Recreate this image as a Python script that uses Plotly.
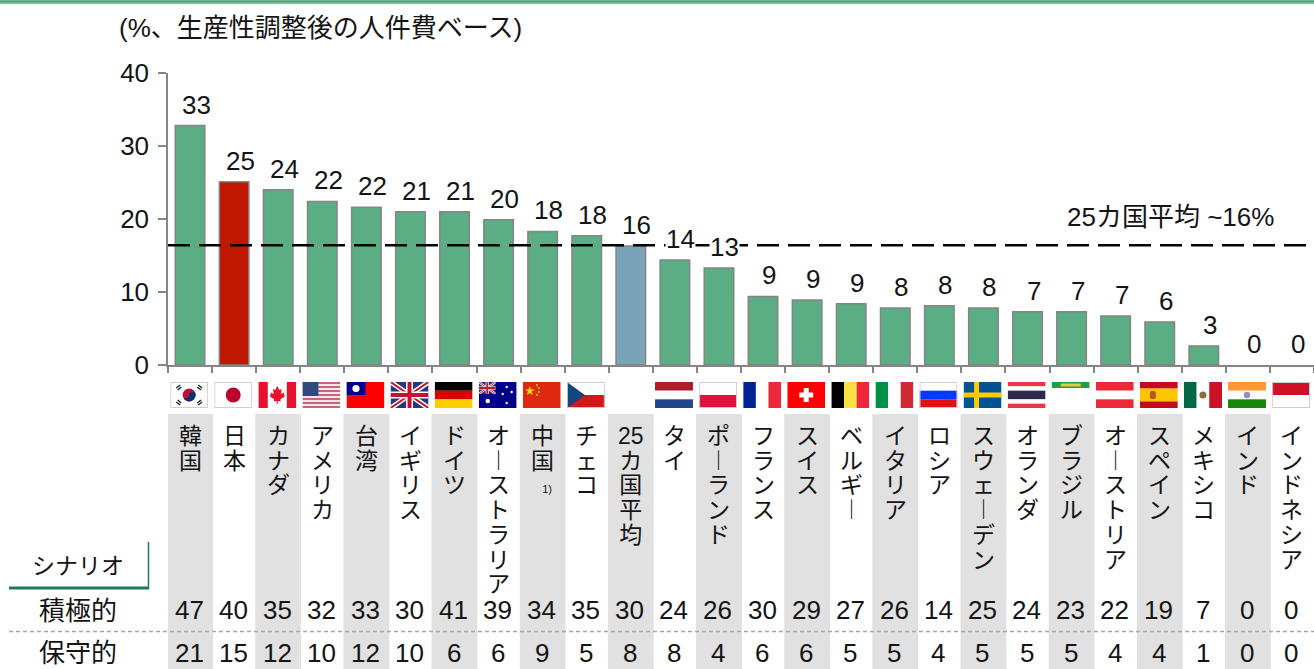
import base64
import plotly.graph_objects as go

W, H = 1314, 669

COUNTRIES = ["韓国", "日本", "カナダ", "アメリカ", "台湾", "イギリス", "ドイツ", "オーストラリア", "中国",
             "チェコ", "25カ国平均", "タイ", "ポーランド", "フランス", "スイス", "ベルギー", "イタリア", "ロシア",
             "スウェーデン", "オランダ", "ブラジル", "オーストリア", "スペイン", "メキシコ", "インド", "インドネシア"]
BASE_VALUES = [32.8, 25.1, 24.0, 22.4, 21.6, 21.0, 21.0, 19.9, 18.3, 17.7, 16.3, 14.4, 13.3,
               9.4, 8.9, 8.4, 7.8, 8.1, 7.8, 7.3, 7.3, 6.7, 5.9, 2.6, 0, 0]
BASE_LABELS = [33, 25, 24, 22, 22, 21, 21, 20, 18, 18, 16, 14, 13, 9, 9, 9, 8, 8, 8, 7, 7, 7, 6, 3, 0, 0]
AGGRESSIVE = [47, 40, 35, 32, 33, 30, 41, 39, 34, 35, 30, 24, 26, 30, 29, 27, 26, 14, 25, 24, 23, 22, 19, 7, 0, 0]
CONSERVATIVE = [21, 15, 12, 10, 12, 10, 6, 6, 9, 5, 8, 8, 4, 6, 6, 5, 5, 4, 5, 5, 5, 4, 4, 1, 0, 0]
AVERAGE = 16.4
YTICKS = [0, 10, 20, 30, 40]
TITLE = "(%、生産性調整後の人件費ベース)"
AVG_LABEL = "25カ国平均 ~16%"
SCENARIO = "シナリオ"
ROW_AGG = "積極的"
ROW_CON = "保守的"

FONT = "Liberation Sans, Noto Sans CJK JP, sans-serif"
INK = "#141414"
GREEN, RED, BLUE = "#5BAE83", "#C01800", "#7AA3B8"
LINE = "#858585"


def py(p):
    return 1 - p / H


def stack(name):
    out = []
    i = 0
    while i < len(name):
        if name[i:i + 2] == "25":
            out.append("25")
            i += 2
            continue
        c = name[i]
        out.append("\uFE31" if c == "ー" else c)
        i += 1
    return "<br>".join(f'<span style="font-size:23px">{g}</span>' for g in out)


def svg(body):
    s = f'<svg xmlns="http://www.w3.org/2000/svg" viewBox="0 0 38 26" preserveAspectRatio="none" width="380" height="260">{body}</svg>'
    return "data:image/svg+xml;base64," + base64.b64encode(s.encode()).decode()


def hs(colors, weights=None):
    weights = weights or [1] * len(colors)
    total = sum(weights)
    y, b = 0, ""
    for c, w in zip(colors, weights):
        h = 26 * w / total
        b += f'<rect x="0" y="{y}" width="38" height="{h + 0.1}" fill="{c}"/>'
        y += h
    return b


def vs(colors):
    w = 38 / len(colors)
    return "".join(f'<rect x="{i * w}" y="0" width="{w + 0.1}" height="26" fill="{c}"/>' for i, c in enumerate(colors))


BORDER = '<rect x="0.5" y="0.5" width="37" height="25" fill="none" stroke="#cfcfcf"/>'
STAR = '<polygon points="7,4 8.2,7.4 11.8,7.4 8.9,9.6 10,13 7,10.9 4,13 5.1,9.6 2.2,7.4 5.8,7.4" fill="#FFDE00"/>'
USA_STRIPES = hs(["#C8657A", "#f4e9ea"] * 6 + ["#C8657A"])
UNION = ('<rect width="38" height="26" fill="#27367F"/>'
         '<path d="M0 0L38 26M38 0L0 26" stroke="#fff" stroke-width="5"/>'
         '<path d="M0 0L38 26M38 0L0 26" stroke="#C8102E" stroke-width="2"/>'
         '<path d="M19 0V26M0 13H38" stroke="#fff" stroke-width="7"/>'
         '<path d="M19 0V26M0 13H38" stroke="#C8102E" stroke-width="4"/>')
FLAGS = {
    "韓国": '<rect width="38" height="26" fill="#fff"/><circle cx="19" cy="13" r="6.5" fill="#C60C30"/>'
            '<path d="M12.5 13A6.5 6.5 0 0 0 25.5 13A3.2 3.2 0 0 0 19 13A3.2 3.2 0 0 1 12.5 13Z" fill="#003478"/>'
            '<path d="M6 6L10 3M7.5 8L11 5M28 3L32 6M27 5L31 8M6 20L10 23M7.5 18L11 21M28 23L32 20M27 21L31 18" stroke="#222" stroke-width="1.4"/>' + BORDER,
    "日本": '<rect width="38" height="26" fill="#fff"/><circle cx="19" cy="13" r="7.5" fill="#BC002D"/>' + BORDER,
    "カナダ": vs(["#E8112D", "#fff", "#fff", "#E8112D"]) +
              '<path d="M19 4L21 8L23.5 7L22.5 12L26 10.5L25.5 13L27 14L22 17.5L22.5 19.5L19.5 19L19.5 22H18.5L18.5 19L15.5 19.5L16 17.5L11 14L12.5 13L12 10.5L15.5 12L14.5 7L17 8Z" fill="#E8112D"/>',
    "アメリカ": USA_STRIPES + '<rect width="16" height="14" fill="#2F4A80"/>',
    "台湾": '<rect width="38" height="26" fill="#FE0000"/><rect width="19" height="13" fill="#000095"/><circle cx="9.5" cy="6.5" r="3.6" fill="#fff"/>',
    "イギリス": UNION,
    "ドイツ": hs(["#000", "#DD0000", "#FFCE00"]),
    "オーストラリア": '<rect width="38" height="26" fill="#00008B"/><svg width="17" height="12" viewBox="0 0 38 26">' + UNION + '</svg>'
                     '<circle cx="9" cy="19" r="2.2" fill="#fff"/><circle cx="28" cy="5" r="1.2" fill="#fff"/><circle cx="33" cy="10" r="1.2" fill="#fff"/><circle cx="24" cy="12" r="1.2" fill="#fff"/><circle cx="28" cy="21" r="1.2" fill="#fff"/>',
    "中国": '<rect width="38" height="26" fill="#DE2910"/>' + STAR + '<circle cx="14" cy="3" r="1" fill="#FFDE00"/><circle cx="16" cy="6" r="1" fill="#FFDE00"/><circle cx="16" cy="10" r="1" fill="#FFDE00"/><circle cx="14" cy="13" r="1" fill="#FFDE00"/>',
    "チェコ": hs(["#fff", "#D7141A"]) + '<polygon points="0,0 18,13 0,26" fill="#11457E"/>' + BORDER,
    "タイ": hs(["#AE1C28", "#fff", "#21468B"]),
    "ポーランド": hs(["#fff", "#DC143C"]) + BORDER,
    "フランス": vs(["#002395", "#fff", "#ED2939"]),
    "スイス": '<rect width="38" height="26" fill="#FF0000"/><path d="M19 6V20M12 13H26" stroke="#fff" stroke-width="5"/>',
    "ベルギー": vs(["#000", "#FAE042", "#ED2939"]),
    "イタリア": vs(["#009246", "#fff", "#CE2B37"]),
    "ロシア": hs(["#fff", "#0039FF", "#E01010"]) + BORDER,
    "スウェーデン": '<rect width="38" height="26" fill="#005293"/><path d="M13 0V26M0 13H38" stroke="#FECB00" stroke-width="5"/>',
    "オランダ": hs(["#EF3340", "#fff", "#2D2A4A", "#fff", "#EF3340"], [1, 1, 2, 1, 1]),
    "ブラジル": '<rect width="38" height="6" fill="#229E45"/><rect x="9" y="1.5" width="20" height="3" fill="#E0D040"/>',
    "オーストリア": hs(["#ED2939", "#fff", "#ED2939"]),
    "スペイン": hs(["#C60B1E", "#FFC400", "#C60B1E"], [1, 2, 1]) + '<rect x="10" y="9" width="6" height="8" rx="2" fill="#B5561D"/>',
    "メキシコ": vs(["#006847", "#fff", "#CE1126"]) + '<circle cx="19" cy="13" r="3.5" fill="#8C6B3F"/>',
    "インド": hs(["#FF9933", "#fff", "#138808"]) + '<circle cx="19" cy="13" r="3.2" fill="#8A8FC8"/>',
    "インドネシア": hs(["#CE1126", "#fff"]) + BORDER,
}

colors = [RED if c == "日本" else BLUE if c == "25カ国平均" else GREEN for c in COUNTRIES]
outline = [1.5 if v > 0 else 0 for v in BASE_VALUES]
n = len(COUNTRIES)
xs = list(range(n))

fig = go.Figure()
fig.add_bar(x=xs, y=BASE_VALUES, width=0.67, marker=dict(color=colors, line=dict(color=LINE, width=outline)),
            showlegend=False, hoverinfo="skip")
fig.add_scatter(x=[-0.5, n - 0.5], y=[AVERAGE, AVERAGE], mode="lines", showlegend=False, hoverinfo="skip",
                line=dict(color="#000", width=2.5, dash="22px,9px"))

shapes = []
for i in xs[::2]:
    shapes.append(dict(type="rect", xref="x", yref="paper", x0=i - 0.52, x1=i + 0.52, y0=0, y1=py(414),
                       fillcolor="#E1E1E1", line_width=0, layer="below"))
shapes += [
    dict(type="rect", xref="paper", yref="paper", x0=0, x1=1, y0=py(4), y1=1, fillcolor="#7CBF9E", line_width=0),
    dict(type="line", xref="paper", yref="paper", x0=0, x1=1, y0=py(1.5), y1=py(1.5), line=dict(color="#4E9C78", width=1.5)),
    dict(type="line", xref="paper", yref="paper", x0=9 / W, x1=149 / W, y0=py(588), y1=py(588), line=dict(color="#1F7A55", width=3)),
    dict(type="line", xref="paper", yref="paper", x0=148.5 / W, x1=148.5 / W, y0=py(589), y1=py(542), line=dict(color="#1F7A55", width=1.5)),
    dict(type="line", xref="paper", yref="paper", x0=9 / W, x1=1, y0=py(631.5), y1=py(631.5), line=dict(color="#A8A8A8", width=1.5, dash="4px,3px")),
]

images = []
for i, c in enumerate(COUNTRIES):
    body = FLAGS.get(c)
    if not body:
        continue
    images.append(dict(source=svg(body), xref="x", yref="paper", x=i - 0.02, y=py(395), sizex=0.86, sizey=26 / H,
                       xanchor="center", yanchor="middle", sizing="stretch", layer="above"))

ann = []


def note(text, x, y, size, xref="paper", yref="paper", **kw):
    ann.append(dict(text=text, x=x, y=y, xref=xref, yref=yref, showarrow=False,
                    font=dict(family=FONT, size=size, color=INK), **kw))


for i, (v, lab) in enumerate(zip(BASE_VALUES, BASE_LABELS)):
    over_line = v < AVERAGE - 1 and v + 7 > AVERAGE
    note(str(lab), i, v, 26, xref="x", yref="y", xanchor="center", yanchor="bottom", xshift=6, yshift=5,
         bgcolor="#ffffff" if over_line else None, borderpad=0)

for i, c in enumerate(COUNTRIES):
    label = stack(c)
    if c == "中国":
        label += '<br><span style="font-size:11px">\u00a0\u00a0\u00a01)</span>'
    note(label, i, py(421), 19, xref="x", xanchor="center", yanchor="top", align="center")
    note(str(AGGRESSIVE[i]), i, py(610), 26, xref="x", xanchor="center", yanchor="middle", xshift=-1)
    note(str(CONSERVATIVE[i]), i, py(653), 26, xref="x", xanchor="center", yanchor="middle", xshift=-1)

note(TITLE, 117 / W, py(28), 26, xanchor="left", yanchor="middle")
note(AVG_LABEL, 1276 / W, py(217), 26, xanchor="right", yanchor="middle")
note(SCENARIO, 78 / W, py(566), 23, xanchor="center", yanchor="middle")
note(ROW_AGG, 78 / W, py(611), 26, xanchor="center", yanchor="middle")
note(ROW_CON, 78 / W, py(653), 26, xanchor="center", yanchor="middle")

fig.update_layout(
    width=W, height=H, margin=dict(l=0, r=0, t=0, b=0, autoexpand=False), autosize=False, showlegend=False,
    paper_bgcolor="#fff", plot_bgcolor="rgba(0,0,0,0)", bargap=0.33,
    shapes=shapes, images=images, annotations=ann,
    font=dict(family=FONT, color=INK),
    xaxis=dict(domain=[168 / W, 1], range=[-0.5, n - 0.5], tickmode="linear", tick0=-0.5, dtick=1,
               showticklabels=False, showgrid=False, zeroline=False, showline=True, linecolor=LINE, linewidth=1.5,
               ticks="outside", ticklen=6, tickcolor=LINE, tickwidth=1.5),
    yaxis=dict(domain=[py(365), py(73)], range=[0, 40], tickvals=YTICKS, showgrid=False, zeroline=False,
               showline=True, linecolor=LINE, linewidth=1.5, ticks="outside", ticklen=8, tickcolor=LINE, tickwidth=1.5,
               tickfont=dict(family=FONT, size=26, color=INK), ticklabelstandoff=4),
)

fig.write_html("out.html", config=dict(displayModeBar=False, responsive=False),
               post_script="document.body.style.margin='0';document.documentElement.style.overflow='hidden';")
